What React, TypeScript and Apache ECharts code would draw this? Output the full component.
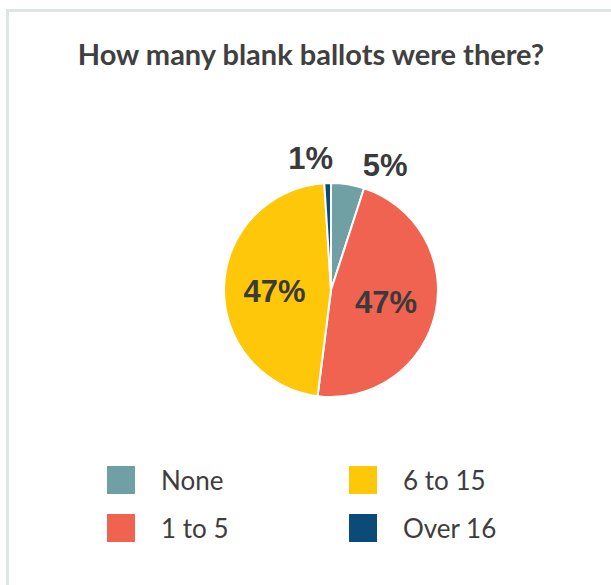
import React, { useEffect, useRef } from "react";
import * as echarts from "echarts";

const titleText = "How many blank ballots were there?";
const categories = ["None", "1 to 5", "6 to 15", "Over 16"];
const values = [5, 47, 47, 1];
const colors = ["#709fa4", "#f16351", "#ffc709", "#0c4b77"];
const outsideLabels = [true, false, false, true];
const leftLegend = ["None", "1 to 5"];
const rightLegend = ["6 to 15", "Over 16"];

export default function App() {
  const ref = useRef<HTMLDivElement>(null);
  useEffect(() => {
    if (!ref.current) return;
    const chart = echarts.init(ref.current, undefined, { renderer: "svg" });
    const labelShift: Record<number, { dx: number; dy: number }> = {
      0: { dx: 12, dy: 0 },
      2: { dx: 0, dy: 3 },
      3: { dx: 6, dy: -6 },
    };
    const legendCommon = {
      orient: "vertical" as const,
      top: 464,
      padding: 0,
      itemWidth: 30,
      itemHeight: 30,
      itemGap: 16,
      icon: "rect",
      selectedMode: false,
      textStyle: {
        fontFamily: "Lato",
        fontSize: 26,
        color: "#3d3d3d",
        padding: [0, 0, 0, 20],
      },
    };
    chart.setOption({
      animation: false,
      backgroundColor: "#ffffff",
      title: {
        text: titleText,
        left: 311,
        textAlign: "center",
        top: 39,
        padding: 0,
        textStyle: {
          fontFamily: "Lato",
          fontWeight: "bold",
          fontSize: 29,
          color: "#404040",
        },
      },
      graphic: [
        {
          type: "rect",
          shape: { x: 7.5, y: 10.5, width: 800, height: 800 },
          style: { fill: "none", stroke: "#dde6e3", lineWidth: 3 },
          silent: true,
        },
      ],
      legend: [
        { ...legendCommon, left: 105, data: leftLegend },
        { ...legendCommon, left: 347, data: rightLegend },
      ],
      series: [
        {
          type: "pie",
          center: [331, 290],
          radius: 107,
          startAngle: 90,
          clockwise: true,
          avoidLabelOverlap: false,
          itemStyle: { borderColor: "#ffffff", borderWidth: 2 },
          labelLine: { show: false, length: 19, length2: 0 },
          label: {
            formatter: "{c}%",
            fontFamily: "Liberation Sans",
            fontWeight: "bold",
            fontSize: 31,
            color: "#3a3a3a",
            distanceToLabelLine: 0,
          },
          labelLayout: (p: any) => labelShift[p.dataIndex] || {},
          data: categories.map((name, i) => ({
            name,
            value: values[i],
            itemStyle: { color: colors[i] },
            label: { position: outsideLabels[i] ? "outside" : "inside" },
          })),
        },
      ],
    });
    return () => chart.dispose();
  }, []);
  return (
    <div
      ref={ref}
      style={{ position: "absolute", left: 0, top: 0, width: 611, height: 585 }}
    />
  );
}
